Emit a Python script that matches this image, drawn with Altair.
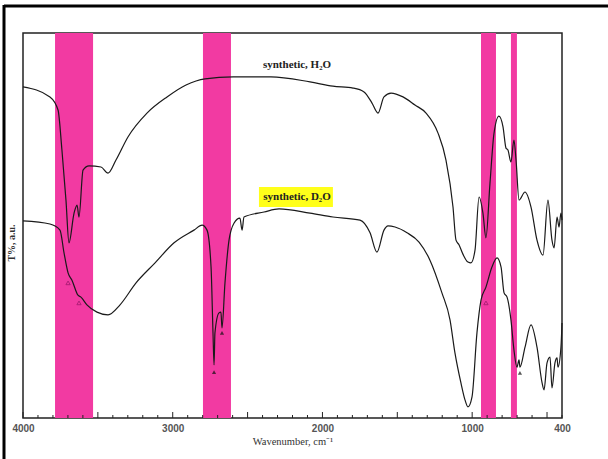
import altair as alt
import pandas as pd

# ---- data (wavenumber in cm-1, transmittance in arbitrary units 0-100) ----
h2o_wn = [4000, 3820, 3766, 3740, 3713, 3693, 3659, 3639, 3626, 3599, 3559, 3479, 3432,
          3379, 3299, 3172, 3038, 2911, 2784, 2597, 2344, 2083, 1930, 1796, 1722, 1669,
          1629, 1589, 1542, 1462, 1382, 1308, 1228, 1175, 1128, 1108, 1088, 1061, 1028,
          1008, 981, 954, 928, 908, 881, 854, 821, 794, 774, 761, 741, 721, 707, 687,
          647, 607, 567, 527, 494, 467, 453, 433, 420, 407, 400]
h2o_t = [86.0, 83.4, 80.0, 69.6, 56.6, 45.5, 53.2, 55.3, 52.2, 64.4, 65.5, 65.2, 63.6,
         67.0, 73.0, 79.2, 83.4, 86.5, 88.1, 88.6, 88.6, 87.3, 86.2, 85.7, 84.7, 81.8,
         79.2, 83.4, 84.4, 83.4, 81.3, 79.2, 74.0, 67.0, 54.8, 46.2, 45.0, 42.5, 40.5,
         40.3, 43.6, 57.4, 53.2, 46.8, 61.0, 74.0, 78.4, 75.6, 70.1, 69.6, 66.5, 72.2,
         67.0, 56.6, 58.7, 54.8, 46.2, 42.3, 56.6, 46.2, 44.2, 52.2, 49.6, 53.2, 51.4]

d2o_wn = [4000, 3820, 3753, 3726, 3699, 3673, 3633, 3613, 3573, 3506, 3432, 3352, 3245,
          3118, 2991, 2858, 2804, 2771, 2744, 2731, 2724, 2718, 2691, 2678, 2671, 2651,
          2624, 2591, 2551, 2537, 2524, 2390, 2290, 2083, 1930, 1749, 1682, 1636, 1589,
          1562, 1515, 1435, 1355, 1282, 1202, 1148, 1115, 1075, 1048, 1028, 1001, 968,
          941, 908, 868, 834, 807, 787, 767, 741, 721, 701, 687, 681, 647, 607, 567,
          533, 520, 500, 480, 467, 447, 433, 427, 407, 400]
d2o_t = [51.2, 50.4, 48.8, 42.9, 37.7, 35.8, 31.9, 31.4, 29.4, 27.5, 26.8, 29.4, 35.1,
         40.3, 45.5, 48.8, 50.1, 48.8, 39.2, 22.1, 13.8, 22.1, 27.3, 27.5, 23.4, 35.1,
         46.2, 50.6, 51.9, 48.8, 52.2, 53.5, 54.3, 53.2, 52.2, 51.4, 48.1, 43.1, 48.8,
         49.9, 49.6, 48.1, 45.7, 41.0, 32.5, 25.5, 16.9, 9.1, 4.7, 2.9, 5.5, 22.1,
         30.6, 34.0, 39.2, 41.6, 39.2, 32.5, 31.4, 25.5, 17.7, 13.2, 15.1, 13.2, 18.4,
         24.2, 18.4, 9.1, 7.3, 14.3, 15.8, 7.8, 14.3, 15.6, 13.2, 18.4, 24.7]

band_start = [3786, 2798, 941, 741]
band_end = [3532, 2611, 841, 701]

open_mark_wn = [3699, 3626, 908]
open_mark_t = [35.1, 29.9, 29.9]
filled_mark_wn = [2724, 2671, 681]
filled_mark_t = [11.9, 22.1, 11.7]

series_labels = ["synthetic, H\u2082O", "synthetic, D\u2082O"]
label_wn = [2170, 2170]
label_t = [91.7, 57.4]
highlight_wn = [2424, 1930]
highlight_t = [60.0, 54.8]

minor_ticks = [v for v in range(400, 4001, 100) if v % 500 != 0]
major_ticks = [v for v in range(400, 4001, 100) if v % 500 == 0]
label_values = [4000, 3000, 2000, 1000, 400]

# ---- build tables ----
W, H = 539, 385
xs = alt.Scale(domain=[4000, 400], nice=False, zero=False)
ys = alt.Scale(domain=[0, 100], nice=False, zero=False)

curves = pd.concat([
    pd.DataFrame({"wn": h2o_wn, "t": h2o_t, "s": "H2O"}),
    pd.DataFrame({"wn": d2o_wn, "t": d2o_t, "s": "D2O"}),
])
bands = pd.DataFrame({"a": band_start, "b": band_end})
openm = pd.DataFrame({"wn": open_mark_wn, "t": open_mark_t})
fillm = pd.DataFrame({"wn": filled_mark_wn, "t": filled_mark_t})
labs = pd.DataFrame({"wn": label_wn, "t": label_t, "txt": series_labels})
hl = pd.DataFrame({"a": [highlight_wn[0]], "b": [highlight_wn[1]],
                   "y1": [highlight_t[0]], "y2": [highlight_t[1]]})
minor_df = pd.DataFrame({"wn": minor_ticks})
major_df = pd.DataFrame({"wn": major_ticks})
one = pd.DataFrame({"k": [0]})

band_layer = alt.Chart(bands).mark_rect(color="#f23aa2").encode(
    x=alt.X("a:Q", scale=xs, axis=alt.Axis(
        values=label_values, format="d", ticks=False, domain=False, grid=False,
        labelFont="Liberation Sans", labelFontSize=10, labelColor="#555",
        labelFontWeight="bold", labelPadding=5, labelFlush=False,
        title="Wavenumber,  cm\u207b\u00b9", titleFont="Liberation Serif",
        titleFontSize=10.5, titleFontWeight="normal", titleColor="#333",
        titlePadding=3)),
    x2="b:Q",
    y=alt.value(0), y2=alt.value(H),
)

hl_layer = alt.Chart(hl).mark_rect(color="#ffff1a").encode(
    x=alt.X("a:Q", scale=xs), x2="b:Q",
    y=alt.Y("y1:Q", scale=ys, axis=None), y2="y2:Q",
)

line_layer = alt.Chart(curves).mark_line(
    color="#1a1a1a", strokeWidth=1.2, interpolate="monotone"
).encode(
    x=alt.X("wn:Q", scale=xs),
    y=alt.Y("t:Q", scale=ys, axis=None),
    detail="s:N",
    order=alt.Order("wn:Q", sort="descending"),
)

open_layer = alt.Chart(openm).mark_point(
    shape="triangle-up", filled=False, color="#8a1060", size=18, strokeWidth=0.9
).encode(x=alt.X("wn:Q", scale=xs), y=alt.Y("t:Q", scale=ys))

fill_layer = alt.Chart(fillm).mark_point(
    shape="triangle-up", filled=True, color="#111", size=18
).encode(x=alt.X("wn:Q", scale=xs), y=alt.Y("t:Q", scale=ys))

text_layer = alt.Chart(labs).mark_text(
    font="Liberation Serif", fontSize=11, fontWeight="bold", color="#222"
).encode(x=alt.X("wn:Q", scale=xs), y=alt.Y("t:Q", scale=ys), text="txt:N")

minor_layer = alt.Chart(minor_df).mark_rule(color="#222", strokeWidth=1).encode(
    x=alt.X("wn:Q", scale=xs), y=alt.value(H), y2=alt.value(H - 3))
major_layer = alt.Chart(major_df).mark_rule(color="#222", strokeWidth=1).encode(
    x=alt.X("wn:Q", scale=xs), y=alt.value(H), y2=alt.value(H - 6))

ytitle = alt.Chart(one).mark_text(
    text="T%,  a.u.", angle=270, font="Liberation Serif", fontSize=10,
    fontWeight="bold", color="#333"
).encode(x=alt.value(-11), y=alt.value(210))

border_top = alt.Chart(one).mark_rule(color="black", strokeWidth=3).encode(
    x=alt.value(-19), x2=alt.value(608 - 23), y=alt.value(-27))
border_left = alt.Chart(one).mark_rule(color="black", strokeWidth=3).encode(
    x=alt.value(-19), y=alt.value(-28), y2=alt.value(459 - 33))

chart = alt.layer(
    band_layer, hl_layer, line_layer, open_layer, fill_layer, text_layer,
    minor_layer, major_layer, ytitle, border_top, border_left
).properties(
    width=W, height=H,
    autosize=alt.AutoSizeParams(type="none"),
    padding={"left": 23, "top": 33, "right": 46, "bottom": 41},
    background="white",
).configure_view(stroke="#222", strokeWidth=1.5)

chart.save("out.html", embed_options={"renderer": "svg", "actions": False})
